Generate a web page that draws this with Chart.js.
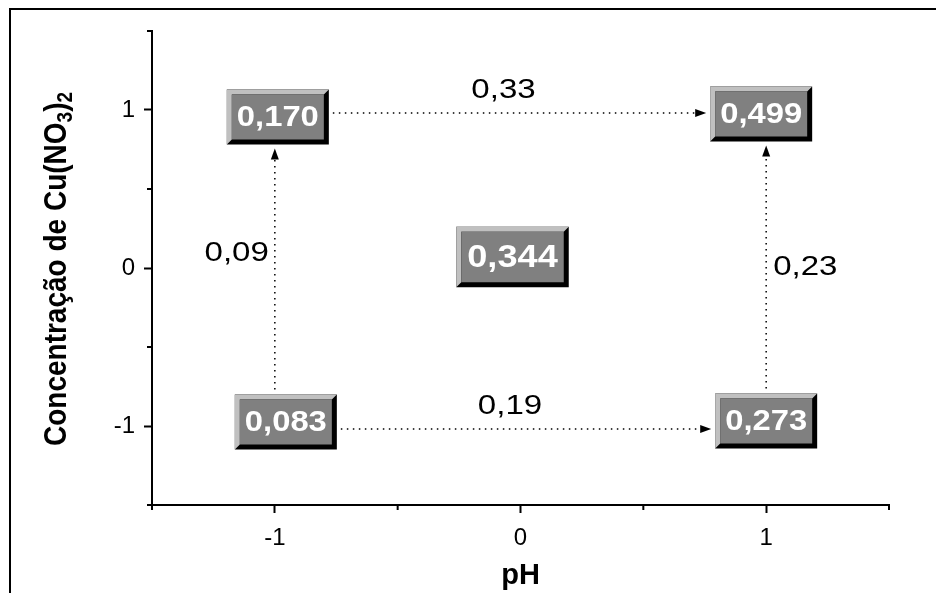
<!DOCTYPE html>
<html>
<head>
<meta charset="utf-8">
<script src="https://cdn.jsdelivr.net/npm/chart.js@4.4.1/dist/chart.umd.min.js"></script>
<style>
  html, body { margin: 0; padding: 0; background: #fff; }
  #wrap { width: 936px; height: 593px; position: relative; }
</style>
</head>
<body>
<div id="wrap"><canvas id="chart" width="936" height="593"></canvas></div>
<script>
/* ================= DATA ================= */
const designPH = [-1, 1, 0, -1, 1];
const designCu = [1, 1, 0, -1, -1];
const responses = [0.170, 0.499, 0.344, 0.083, 0.273];

// effects between design points (from index -> to index)
const effectFrom = [0, 3, 3, 4];
const effectTo = [1, 4, 0, 1];
const effectValues = [0.33, 0.19, 0.09, 0.23];

const xTickValues = [-1, 0, 1];
const yTickValues = [-1, 0, 1];

/* ================= LAYOUT ================= */
const FONT = '"Liberation Sans", Arial, sans-serif';
const boxNudge = [[3, 7], [-5, 4], [-8, -11], [11, -4], [0, -5]]; // px shifts of the labels
const boxScale = [1, 1, 1.1, 1, 1];
const BEVEL = 5;
const FACE_H = 45;
const PAD_X = 5;
const STRETCH = 1.18; // the original text is drawn wide

const fmt = (v, d) => v.toFixed(d).replace('.', ',');

function wideText(ctx, text, x, y, align, k) {
    const s = k || STRETCH;
    const w = ctx.measureText(text).width * s;
    let left = x;
    if (align === 'center') left = x - w / 2;
    if (align === 'right') left = x - w;
    ctx.save();
    ctx.translate(left, y);
    ctx.scale(s, 1);
    ctx.textAlign = 'left';
    ctx.fillText(text, 0, 0);
    ctx.restore();
}

function boxRect(ctx, chart, i) {
    const x = chart.scales.x.getPixelForValue(designPH[i]) + boxNudge[i][0];
    const y = chart.scales.y.getPixelForValue(designCu[i]) + boxNudge[i][1];
    const k = boxScale[i];
    ctx.font = 'bold ' + Math.round(29 * k) + 'px ' + FONT;
    const w = ctx.measureText(fmt(responses[i], 3)).width * 1.13 + (2 * PAD_X + 2 * BEVEL) * k;
    const h = (FACE_H + 2 * BEVEL) * k;
    return { x0: x - w / 2, y0: y - h / 2, x1: x + w / 2, y1: y + h / 2, cx: x, cy: y, k };
}

function drawBox(ctx, r, text) {
    const b = BEVEL;
    ctx.fillStyle = '#000';
    ctx.fillRect(r.x0, r.y0, r.x1 - r.x0, r.y1 - r.y0);
    ctx.fillStyle = '#c0c0c0';
    ctx.beginPath();
    ctx.moveTo(r.x0, r.y0);
    ctx.lineTo(r.x1, r.y0);
    ctx.lineTo(r.x1 - b, r.y0 + b);
    ctx.lineTo(r.x0 + b, r.y0 + b);
    ctx.lineTo(r.x0 + b, r.y1 - b);
    ctx.lineTo(r.x0, r.y1);
    ctx.closePath();
    ctx.fill();
    ctx.fillStyle = '#808080';
    ctx.fillRect(r.x0 + b, r.y0 + b, r.x1 - r.x0 - 2 * b, r.y1 - r.y0 - 2 * b);
    ctx.fillStyle = '#fff';
    ctx.font = 'bold ' + Math.round(29 * r.k) + 'px ' + FONT;
    ctx.textBaseline = 'middle';
    wideText(ctx, text, r.cx, r.cy + 1, 'center', 1.13);
}

function drawArrow(ctx, x0, y0, x1, y1) {
    const ang = Math.atan2(y1 - y0, x1 - x0);
    const len = Math.hypot(x1 - x0, y1 - y0);
    ctx.save();
    ctx.translate(x0, y0);
    ctx.rotate(ang);
    ctx.fillStyle = '#000';
    for (let d = 0; d < len - 12; d += 6) ctx.fillRect(d, -0.75, 1.5, 1.5);
    ctx.beginPath();
    ctx.moveTo(len, 0);
    ctx.lineTo(len - 11, -4);
    ctx.lineTo(len - 11, 4);
    ctx.closePath();
    ctx.fill();
    ctx.restore();
}

const annotations = {
    id: 'annotations',
    afterDraw(chart) {
        const ctx = chart.ctx;
        const xs = chart.scales.x, ys = chart.scales.y;
        ctx.save();

        // outer frame
        ctx.fillStyle = '#000';
        ctx.fillRect(9, 8, 927, 2);
        ctx.fillRect(9, 8, 2, 585);

        // minor ticks
        ctx.lineWidth = 2;
        ctx.strokeStyle = '#000';
        ys.ticks.forEach(t => {
            if (Number.isInteger(t.value)) return;
            const py = ys.getPixelForValue(t.value);
            ctx.beginPath(); ctx.moveTo(xs.left - 5, py); ctx.lineTo(xs.left, py); ctx.stroke();
        });
        xs.ticks.forEach(t => {
            if (Number.isInteger(t.value)) return;
            const px = xs.getPixelForValue(t.value);
            ctx.beginPath(); ctx.moveTo(px, ys.bottom); ctx.lineTo(px, ys.bottom + 5); ctx.stroke();
        });

        // y title with subscripts
        ctx.save();
        ctx.translate(57, 269);
        ctx.rotate(-Math.PI / 2);
        ctx.fillStyle = '#000';
        ctx.textBaseline = 'middle';
        const big = 'bold 28px ' + FONT, small = 'bold 19px ' + FONT;
        const parts = [['Concentração de Cu(NO', big, 0], ['3', small, 9], [')', big, 0], ['2', small, 9]];
        let total = 0;
        parts.forEach(p => { ctx.font = p[1]; total += ctx.measureText(p[0]).width; });
        let cx = -total / 2;
        ctx.textAlign = 'left';
        parts.forEach(p => {
            ctx.font = p[1];
            ctx.save();
            ctx.translate(cx, p[2]);
            ctx.scale(1, 1.12);
            ctx.fillText(p[0], 0, 0);
            ctx.restore();
            cx += ctx.measureText(p[0]).width;
        });
        ctx.restore();

        // boxes
        const rects = responses.map((v, i) => boxRect(ctx, chart, i));

        // effect arrows and their labels
        ctx.font = '28px ' + FONT;
        ctx.textBaseline = 'middle';
        effectValues.forEach((v, k) => {
            const a = rects[effectFrom[k]], b = rects[effectTo[k]];
            const i = effectFrom[k], j = effectTo[k];
            ctx.fillStyle = '#000';
            if (designCu[i] === designCu[j]) {
                const py = ys.getPixelForValue(designCu[i]) + 3;
                drawArrow(ctx, a.x1 + 4, py, b.x0 - 4, py);
                wideText(ctx, fmt(v, 2), (a.x1 + b.x0) / 2 - 16, py - 23, 'center');
            } else {
                const px = xs.getPixelForValue(designPH[i]);
                drawArrow(ctx, px, a.y0 - 5, px, b.y1 + 4);
                const my = (a.y0 + b.y1) / 2;
                if (designPH[i] < 0) {
                    wideText(ctx, fmt(v, 2), px - 6, my - 16, 'right');
                } else {
                    wideText(ctx, fmt(v, 2), px + 7, my, 'left');
                }
            }
        });

        rects.forEach((r, i) => drawBox(ctx, r, fmt(responses[i], 3)));
        ctx.restore();
    }
};

/* ================= CHART ================= */
const gridCommon = {
    drawOnChartArea: false,
    drawTicks: true,
    tickLength: 8,
    tickWidth: 2,
    tickColor: ctx => Number.isInteger(ctx.tick.value) ? '#000' : 'rgba(0,0,0,0)'
};

new Chart(document.getElementById('chart'), {
    type: 'scatter',
    data: {
        datasets: [{
            data: designPH.map((x, i) => ({ x, y: designCu[i] })),
            pointRadius: 0
        }]
    },
    options: {
        responsive: false,
        animation: false,
        layout: { padding: { left: 0, right: 47, top: 31, bottom: 0 } },
        plugins: { legend: { display: false }, tooltip: { enabled: false } },
        scales: {
            x: {
                type: 'linear', min: -1.5, max: 1.5,
                border: { display: true, color: '#000', width: 2 },
                grid: gridCommon,
                ticks: {
                    stepSize: 0.5, color: '#000', font: { family: FONT, size: 24 }, padding: 11,
                    maxRotation: 0, autoSkip: false,
                    callback: v => (xTickValues.includes(v) ? String(v) : '')
                },
                title: { display: true, text: 'pH', color: '#000', font: { family: FONT, size: 29, weight: 'bold' }, padding: { top: 6, bottom: 0 } },
                afterFit: s => { s.height = 88; }
            },
            y: {
                type: 'linear', min: -1.5, max: 1.5,
                border: { display: true, color: '#000', width: 2 },
                grid: gridCommon,
                ticks: {
                    stepSize: 0.5, color: '#000', font: { family: FONT, size: 24 }, padding: 9, autoSkip: false,
                    callback: v => (yTickValues.includes(v) ? String(v) : '')
                },
                afterFit: s => { s.width = 152; }
            }
        }
    },
    plugins: [annotations]
});
</script>
</body>
</html>
